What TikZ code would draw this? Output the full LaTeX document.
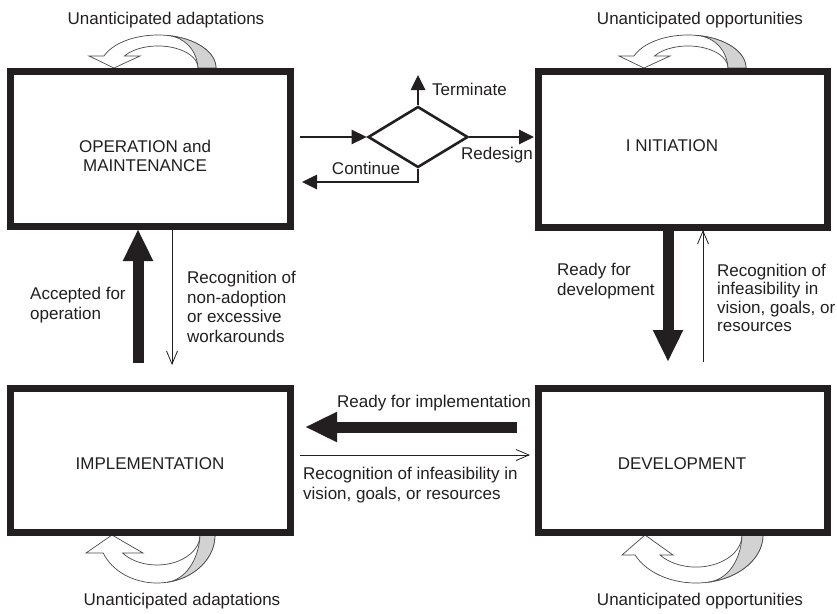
\documentclass[tikz,border=0pt]{standalone}
\usepackage{fontspec}
\setmainfont{Liberation Sans}
\usetikzlibrary{arrows.meta,shapes.geometric}
\definecolor{ink}{HTML}{231F20}
\definecolor{ribbon}{HTML}{D2D2D2}
\definecolor{edge}{HTML}{4A4A4A}
\begin{document}
\begin{tikzpicture}[x=1pt,y=-1pt,
  box/.style={draw=ink,line width=7pt,inner sep=0pt,outer sep=0pt},
  lbl/.style={text=ink,font=\fontsize{17}{19.7}\selectfont,inner sep=0pt},
  big/.style={draw=ink,line width=11pt,-{Triangle[length=32pt,width=28pt]}},
  thin/.style={draw=ink,line width=0.8pt,-{Straight Barb[length=13pt,width=11pt,line width=0.8pt]}},
  flow/.style={draw=ink,line width=2.6pt,-{Triangle[length=15pt,width=14pt]}},
  rib/.style={draw=edge,line width=0.7pt,fill=white},
  ribgray/.style={draw=edge,line width=0.7pt,fill=ribbon}]
\useasboundingbox[fill=white] (0,0) rectangle (837,613);

% curved ribbon arrows
% top-left
\path[rib] (216,68) arc[start angle=0,end angle=-158.7,x radius=58,y radius=33]
  -- (89,56) -- (114,68) -- (140,56) -- (124.45,56)
  arc[start angle=-147,end angle=0,x radius=40,y radius=22] -- cycle;
\path[ribgray] (198,68) .. controls (197,50) and (184,37) .. (168.07,35.5)
  arc[start angle=-80,end angle=0,x radius=58,y radius=33] -- cycle;
% top-right
\begin{scope}[xshift=530pt]
\path[rib] (216,68) arc[start angle=0,end angle=-158.7,x radius=58,y radius=33]
  -- (89,56) -- (114,68) -- (140,56) -- (124.45,56)
  arc[start angle=-147,end angle=0,x radius=40,y radius=22] -- cycle;
\path[ribgray] (198,68) .. controls (197,50) and (184,37) .. (168.07,35.5)
  arc[start angle=-80,end angle=0,x radius=58,y radius=33] -- cycle;
\end{scope}
% bottom-left
\path[rib] (215,535) arc[start angle=0,end angle=158,x radius=58,y radius=48]
  -- (86,553) -- (112,535) -- (143,553) -- (122.6,553)
  arc[start angle=143.13,end angle=0,x radius=43,y radius=30] -- cycle;
\path[ribgray] (200,535) .. controls (199,560) and (185,580) .. (167.07,582.27)
  arc[start angle=80,end angle=0,x radius=58,y radius=48] -- cycle;
% bottom-right
\path[rib] (763,535) arc[start angle=0,end angle=155.4,x radius=67,y radius=48]
  -- (622,555) -- (645,535) -- (673,555) -- (660,555)
  arc[start angle=141.5,end angle=0,x radius=46,y radius=32] -- cycle;
\path[ribgray] (742,535) .. controls (741,560) and (728,580) .. (707.63,582.27)
  arc[start angle=80,end angle=0,x radius=67,y radius=48] -- cycle;

% boxes
\node[box,minimum width=280pt,minimum height=155pt] (om) at (150.5,149) {};
\node[box,minimum width=289pt,minimum height=155.5pt] (init) at (683,149.25) {};
\node[box,minimum width=280pt,minimum height=144pt] (impl) at (150.5,460.5) {};
\node[box,minimum width=289pt,minimum height=144pt] (dev) at (683,460.5) {};

\node[lbl,align=center] (omt) at (145,156) {OPERATION and\\MAINTENANCE};
\node[lbl] (initt) at (672,146) {I NITIATION};
\node[lbl] (implt) at (150,464) {IMPLEMENTATION};
\node[lbl] (devt) at (682,464) {DEVELOPMENT};

% decision
\node[draw=ink,line width=2.6pt,diamond,minimum width=100pt,minimum height=61pt,inner sep=0pt] (dec) at (418,137) {};
\coordinate (inA) at (300,137);
\coordinate (termT) at (418,75);
\coordinate (redT) at (534,137);
\coordinate (contT) at (302,182);
\draw[flow] (inA) -- (dec.west);
\draw[flow] (dec.north) -- (termT);
\draw[flow] (dec.east) -- (redT);
\draw[flow] (dec.south) |- (contT);
\node[lbl,anchor=west] (term) at (432,89) {Terminate};
\node[lbl] (cont) at (366,168) {Continue};
\node[lbl] (red) at (497,155) {Redesign};

% vertical arrows left
\coordinate (accS) at (138,363);
\coordinate (accT) at (138,229);
\draw[big] (accS) -- (accT);
\coordinate (nonS) at (172,230);
\coordinate (nonT) at (172,365);
\draw[thin] (nonS) -- (nonT);
\node[lbl,anchor=west,align=left] (acc) at (30,305) {Accepted for\\operation};
\node[lbl,anchor=west,align=left] (non) at (187,307) {Recognition of\\non-adoption\\or excessive\\workarounds};

% vertical arrows right
\coordinate (rdS) at (668,230);
\coordinate (rdT) at (668,362);
\draw[big] (rdS) -- (rdT);
\coordinate (rinS) at (703,362);
\coordinate (rinT) at (703,230);
\draw[thin] (rinS) -- (rinT);
\node[lbl,anchor=west,align=left] (rdd) at (557,281) {Ready for\\development};
\node[lbl,anchor=west,align=left,font=\fontsize{17}{18.5}\selectfont] (rin) at (717,298) {Recognition of\\infeasibility in\\vision, goals, or\\resources};

% horizontal arrows
\coordinate (riS) at (517,427);
\coordinate (riT) at (305,427);
\draw[big] (riS) -- (riT);
\coordinate (rbS) at (300,455);
\coordinate (rbT) at (530,455);
\draw[thin] (rbS) -- (rbT);
\node[lbl] (rit) at (434,403) {Ready for implementation};
\node[lbl,anchor=west,align=left] (rbt) at (303,485) {Recognition of infeasibility in\\vision, goals, or resources};

% ribbon labels
\node[lbl] (ua1) at (166,20) {Unanticipated adaptations};
\node[lbl] (uo1) at (700,20) {Unanticipated opportunities};
\node[lbl] (ua2) at (182,601) {Unanticipated adaptations};
\node[lbl] (uo2) at (700,601) {Unanticipated opportunities};
\end{tikzpicture}
\end{document}
